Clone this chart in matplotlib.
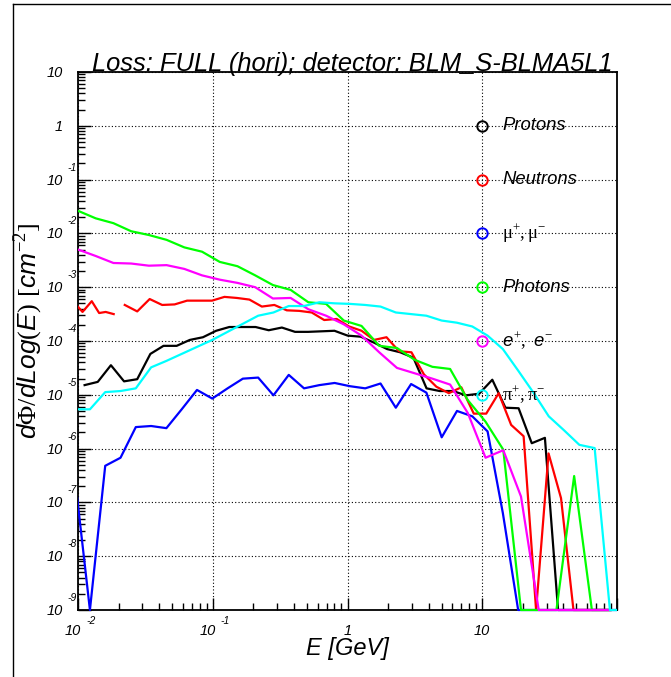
import numpy as np
import matplotlib
matplotlib.use("Agg")
import matplotlib.pyplot as plt
from matplotlib.lines import Line2D
from matplotlib.patches import Rectangle
from matplotlib.ticker import LogLocator
from matplotlib.transforms import offset_copy

plt.rcParams['font.family'] = ['Liberation Sans', 'DejaVu Sans']
plt.rcParams['mathtext.fontset'] = 'custom'
plt.rcParams['mathtext.rm'] = 'Liberation Serif'
plt.rcParams['mathtext.it'] = 'Liberation Sans:italic'
plt.rcParams['mathtext.sf'] = 'Liberation Sans'

Z = -np.inf  # empty bin (drawn on the lower edge)

# energy grids in GeV (log-spaced scoring bins)
E_protons = np.logspace(-1.951, -1.951 + 0.0976 * 40, 41)
E_neutrons_low = np.array([9.05e-3, 1.08e-2, 1.265e-2, 1.435e-2, 1.605e-2, 1.84e-2])
E_neutrons = np.logspace(-1.653, -1.653 + 0.0925 * 39, 40)
E_muons = np.logspace(-2.025, -2.025 + 0.1135 * 36, 37)
E_photons = np.logspace(-2.0, -2.0 + 0.1315 * 30, 31)

# log10 of dPhi/dLog(E) [cm^-2]
protons_log = [-4.82, -4.76, -4.45, -4.75, -4.71, -4.24, -4.09, -4.09, -3.98, -3.93,
               -3.81, -3.74, -3.74, -3.74, -3.80, -3.75, -3.83, -3.83, -3.82, -3.81,
               -3.90, -3.92, -4.03, -4.15, -4.21, -4.31, -4.88, -4.93, -4.93, -5.01,
               -4.98, -4.72, -5.24, -5.25, -5.90, -5.80, Z, Z, Z, Z, Z]
neutrons_low_log = [-3.24, -3.46, -3.26, -3.48, -3.46, -3.50]
neutrons_log = [-3.33, -3.45, -3.22, -3.33, -3.32, -3.25, -3.25, -3.25, -3.18, -3.20,
                -3.23, -3.36, -3.33, -3.43, -3.44, -3.47, -3.61, -3.59, -3.73, -3.81,
                -3.98, -3.93, -4.19, -4.21, -4.62, -4.85, -4.97, -4.86, -5.35, -5.35,
                -4.97, -5.56, -5.77, Z, -6.09, -6.92, Z, Z, Z, Z]
muons_log = [-6.50, Z, -6.32, -6.17, -5.60, -5.58, -5.62, -5.27, -4.91, -5.07,
             -4.88, -4.70, -4.68, -5.01, -4.63, -4.88, -4.82, -4.78, -4.84, -4.88,
             -4.79, -5.24, -4.80, -4.96, -5.79, -5.30, -5.40, -5.68, -7.20, Z,
             Z, Z, Z, Z, Z, Z, Z]
photons_log = [-1.58, -1.72, -1.81, -1.96, -2.03, -2.12, -2.26, -2.34, -2.53, -2.61,
               -2.78, -2.96, -3.05, -3.28, -3.31, -3.62, -3.72, -4.09, -4.13, -4.35,
               -4.48, -4.52, -5.10, -5.50, -6.02, Z, Z, Z, -6.51, Z, Z]
electrons_log = [-2.30, -2.42, -2.55, -2.56, -2.60, -2.59, -2.66, -2.78, -2.86, -2.92,
                 -3.00, -3.21, -3.20, -3.41, -3.53, -3.69, -3.90, -4.21, -4.50, -4.60,
                 -4.70, -4.81, -5.34, -6.17, -6.03, -6.89, Z, Z, Z, Z, Z]
pions_log = [-5.27, -5.27, -4.95, -4.93, -4.88, -4.49, -4.37, -4.24, -4.11, -3.98,
             -3.83, -3.68, -3.53, -3.47, -3.35, -3.35, -3.28, -3.30, -3.31, -3.33,
             -3.36, -3.47, -3.50, -3.53, -3.62, -3.66, -3.73, -3.90, -4.15, -4.55,
             -4.96, -5.40, -5.66, -5.93, -5.99, Z, Z]

labels = ['Protons', 'Neutrons', r'$\mathrm{\mu}^{+}\mathrm{,\mu}^{-}$', 'Photons',
          r'$\mathit{e}^{+}\mathit{,\ e}^{-}$', r'$\mathrm{\pi}^{+}\mathrm{,\pi}^{-}$']
colors = ['#000000', '#ff0000', '#0000ff', '#00ff00', '#ff00ff', '#00ffff']
legend_y = [1.0, 1e-1, 1e-2, 1e-3, 1e-4, 1e-5]
legend_x = 10.0

title = 'Loss: FULL (hori); detector: BLM_S-BLMA5L1'
ymin, ymax = 1e-9, 10.0
xmin, xmax = 0.01, 100.0

W, H = 671, 677
fig = plt.figure(figsize=(W / 100, H / 100), dpi=100)
fig.patch.set_facecolor('white')
ax = fig.add_axes([78 / W, 1 - 610 / H, (617 - 78) / W, (610 - 72) / H])
ax.set_xscale('log')
ax.set_yscale('log')
ax.set_xlim(xmin, xmax)
ax.set_ylim(ymin, ymax)

# slightly enlarged clip box so curves lying on the bottom edge stay visible
clip = Rectangle((0, -0.004), 1, 1.008, transform=ax.transAxes,
                 facecolor='none', edgecolor='none')

series = [
    (E_protons, protons_log, colors[0]),
    (E_neutrons_low, neutrons_low_log, colors[1]),
    (E_neutrons, neutrons_log, colors[1]),
    (E_muons, muons_log, colors[2]),
    (E_photons, photons_log, colors[3]),
    (E_photons, electrons_log, colors[4]),
    (E_muons, pions_log, colors[5]),
]
for e, lg, c in series:
    y = np.clip(10.0 ** np.array(lg), ymin, None)
    ln, = ax.plot(e, y, color=c, lw=1.6, zorder=3)
    ln.set_clip_path(clip)

# legend drawn inside the frame as markers + text
for lab, c, yv in zip(labels, colors, legend_y):
    ax.plot([legend_x], [yv], 'o', mfc='none', mec=c, ms=7.5, mew=1.4, zorder=4)
    tr = offset_copy(ax.transData, fig=fig, x=20, y=0, units='dots')
    style = 'italic' if not lab.startswith('$') else 'normal'
    ax.text(legend_x, yv, lab, transform=tr, ha='left', va='center',
            fontsize=13.3, fontstyle=style, zorder=5)

# axes styling
ax.xaxis.set_major_locator(LogLocator(base=10, numticks=20))
ax.yaxis.set_major_locator(LogLocator(base=10, numticks=20))
ax.xaxis.set_minor_locator(LogLocator(base=10, subs=np.arange(2, 10), numticks=20))
ax.yaxis.set_minor_locator(LogLocator(base=10, subs=np.arange(2, 10), numticks=20))
ax.tick_params(which='both', direction='in', top=False, right=False,
               labelbottom=False, labelleft=False, width=1.0)
ax.tick_params(which='major', length=9)
ax.tick_params(which='minor', length=5)
ax.grid(which='major', color='black', ls=(0, (1, 2)), lw=0.8)
for s in ax.spines.values():
    s.set_linewidth(1.3)

# ROOT-like tick labels: "10" plus raised exponent
lab_kw = dict(fontsize=10.5, fontstyle='italic')
exp_kw = dict(fontsize=7.5, fontstyle='italic')
for ex in range(-9, 2):
    v = 10.0 ** ex
    base = ax.get_yaxis_transform()
    main = '1' if ex == 0 else '10'
    ax.text(0, v, main, transform=offset_copy(base, fig=fig, x=-15, y=-1, units='dots'),
            ha='right', va='center', **lab_kw)
    if ex not in (0, 1):
        ax.text(0, v, str(ex), transform=offset_copy(base, fig=fig, x=-11, y=12, units='dots'),
                ha='left', va='center', **exp_kw)
for ex in range(-2, 2):
    v = 10.0 ** ex
    base = ax.get_xaxis_transform()
    main = '1' if ex == 0 else '10'
    dx = -5 if ex < 0 else 0
    ax.text(v, 0, main, transform=offset_copy(base, fig=fig, x=dx, y=-21, units='dots'),
            ha='center', va='center', **lab_kw)
    if ex < 0:
        ax.text(v, 0, str(ex), transform=offset_copy(base, fig=fig, x=8, y=-11, units='dots'),
                ha='left', va='center', **exp_kw)

fig.text(352 / W, 1 - 71 / H, title, ha='center', va='baseline',
         fontsize=18.4, fontstyle='italic')
fig.text(347 / W, 1 - 648 / H, 'E [GeV]', ha='center', va='center',
         fontsize=17, fontstyle='italic')
fig.text(29 / W, 1 - 331 / H,
         r'$\mathit{d}\Phi\mathit{/dLog(E)}\ \mathit{[cm}^{\mathit{-2}}\mathit{]}$',
         ha='center', va='center', rotation=90, fontsize=19)

# pad border
fig.add_artist(Line2D([13 / W, 13 / W], [0, 1 - 4 / H], color='black', lw=1.0))
fig.add_artist(Line2D([13 / W, 1], [1 - 4 / H, 1 - 4 / H], color='black', lw=1.0))

fig.savefig('out.png', dpi=100)
